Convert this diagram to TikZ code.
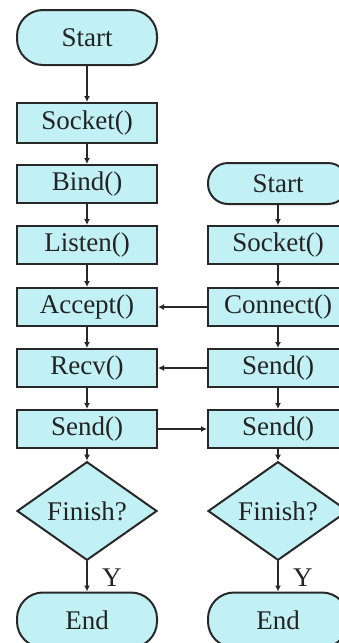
\documentclass[tikz,border=0pt]{standalone}
\usepackage{fontspec}
\setmainfont{Liberation Serif}
\usetikzlibrary{shapes.geometric,arrows.meta}
\definecolor{boxfill}{RGB}{194,241,245}
\definecolor{edgec}{RGB}{40,40,40}
\definecolor{txtc}{RGB}{35,35,35}
\begin{document}
\begin{tikzpicture}[x=1pt,y=-1pt,
 base/.style={draw=edgec, line width=2pt, fill=boxfill, text=txtc, font=\fontsize{27}{31}\selectfont, inner sep=0pt},
 proc/.style={base, rectangle, minimum width=140pt, minimum height=38pt},
 term/.style={base, rectangle, rounded corners=26pt, minimum width=140pt, minimum height=55pt},
 decis/.style={base, diamond, minimum width=140pt, minimum height=78pt},
 conn/.style={draw=edgec, line width=2pt, -{Latex[length=6pt,width=6pt]}},
 ylab/.style={text=txtc, font=\fontsize{27}{31}\selectfont, inner sep=0pt, anchor=south west}
]
\useasboundingbox (0,0) rectangle (339,643);
\clip (0,0) rectangle (339,643);
% left column
\node[term] (s1) at (87,37.5) {Start};
\node[proc, minimum height=40pt] (a1) at (87,123) {Socket()};
\node[proc] (a2) at (87,184) {Bind()};
\node[proc] (a3) at (87,245) {Listen()};
\node[proc] (a4) at (87,307) {Accept()};
\node[proc] (a5) at (87,368) {Recv()};
\node[proc] (a6) at (87,429) {Send()};
\node[decis] (f1) at (87,511) {Finish?};
\node[term] (e1) at (87,620) {End};
% right column
\node[term, minimum height=41pt, rounded corners=20pt] (s2) at (278,183.5) {Start};
\node[proc] (b1) at (278,245) {Socket()};
\node[proc] (b2) at (278,307) {Connect()};
\node[proc] (b3) at (278,368) {Send()};
\node[proc] (b4) at (278,429) {Send()};
\node[decis] (f2) at (278,511) {Finish?};
\node[term] (e2) at (278,620) {End};
% vertical connectors
\draw[conn] (s1) -- (a1);
\draw[conn] (a1) -- (a2);
\draw[conn] (a2) -- (a3);
\draw[conn] (a3) -- (a4);
\draw[conn] (a4) -- (a5);
\draw[conn] (a5) -- (a6);
\draw[conn] (a6) -- (f1);
\draw[conn] (f1) -- (e1) node[ylab, pos=1, xshift=14pt, yshift=4pt] {Y};
\draw[conn] (s2) -- (b1);
\draw[conn] (b1) -- (b2);
\draw[conn] (b2) -- (b3);
\draw[conn] (b3) -- (b4);
\draw[conn] (b4) -- (f2);
\draw[conn] (f2) -- (e2) node[ylab, pos=1, xshift=14pt, yshift=4pt] {Y};
% horizontal connectors
\draw[conn] (b2) -- (a4);
\draw[conn] (b3) -- (a5);
\draw[conn] (a6) -- (b4);
\end{tikzpicture}
\end{document}
